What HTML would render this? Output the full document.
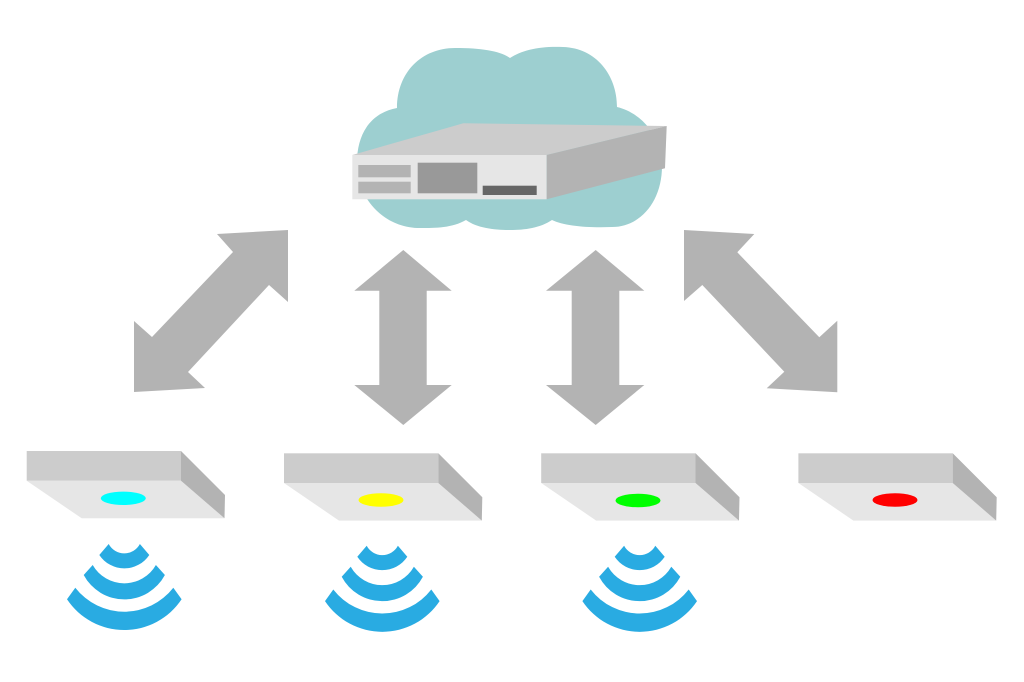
<!DOCTYPE html>
<html>
<head>
<meta charset="utf-8">
<style>
  html,body{margin:0;padding:0;background:#ffffff;}
  body{width:1024px;height:682px;overflow:hidden;}
  svg{display:block;}
</style>
</head>
<body>
<svg width="1024" height="682" viewBox="0 0 1024 682" xmlns="http://www.w3.org/2000/svg">
  <rect x="0" y="0" width="1024" height="682" fill="#ffffff"/>

  <!-- Cloud -->
  <path fill="#9dcfd0" d="
    M 397,108
    C 397,72 422,48 455,48
    C 482,48 500,51 510,58
    C 522,50 540,46 563,47
    C 596,48 617,75 617,107
    C 642,113 662,137 662,166
    C 662,202 640,227 612,227
    C 588,228 564,226 552,220
    C 540,228 525,230 510,230
    C 494,230 477,228 466,220
    C 452,228 436,228 420,228
    C 385,228 358,200 357,166
    C 356,135 370,113 397,108 Z"/>

  <!-- Server -->
  <polygon fill="#cccccc" points="352.3,155 463.3,123.3 666.7,126 546.7,155"/>
  <rect x="352.3" y="155" width="194.4" height="44.3" fill="#e6e6e6"/>
  <polygon fill="#b3b3b3" points="546.7,155 666.7,126 665,168.3 546.7,199.3"/>
  <rect x="358.3" y="165" width="52.4" height="12.3" fill="#b3b3b3"/>
  <rect x="358.3" y="181.7" width="52.4" height="11.6" fill="#b3b3b3"/>
  <rect x="417.7" y="162.7" width="59.6" height="30.6" fill="#999999"/>
  <rect x="482.7" y="185.7" width="54" height="9.3" fill="#666666"/>

  <!-- Arrows -->
  <g fill="#b3b3b3">
    <polygon points="288,230 288,302 269,285 188,372 205,388 134,392 134,321 152,337 233,252 217,234"/>
    <polygon points="403.3,250 451.7,290.7 426.7,290.7 426.7,385 451.7,385 403.3,425 354.3,385 379.3,385 379.3,290.7 354.3,290.7"/>
    <polygon points="595.7,250 644.3,290.7 619.3,290.7 619.3,385 644.3,385 595.7,425 546,385 571.7,385 571.7,290.7 546,290.7"/>
    <polygon points="684,230 754.3,234 737.3,252.3 819.3,337.3 837.3,320.7 837.3,392.3 766.7,388.3 784.3,371.7 702.3,285 684,301"/>
  </g>

  <!-- Access point template -->
  <defs>
    <g id="ap">
      <polygon fill="#e6e6e6" points="26.7,480.7 181,480.7 224.5,518.3 81.7,518.3"/>
      <rect x="26.7" y="451" width="154.3" height="29.7" fill="#cccccc"/>
      <polygon fill="#b3b3b3" points="181,451 225,495 224.5,518.3 181,480.7"/>
    </g>
    <g id="wifi" fill="#29abe2">
      <path d="M 67,599.3 A 68.8 68.8 0 0 0 181.6,599.3 L 173.3,587.7 A 62 62 0 0 1 75.3,587.7 Z"/>
      <path d="M 83.7,575 A 46 46 0 0 0 164.9,575 L 155.9,565 A 36.4 36.4 0 0 1 92.7,565 Z"/>
      <path d="M 99.3,555 A 30.1 30.1 0 0 0 149.3,555 L 139.9,544 A 17.7 17.7 0 0 1 108.7,544 Z"/>
    </g>
  </defs>

  <!-- AP 1 -->
  <use href="#ap" x="0" y="0"/>
  <ellipse cx="123.3" cy="498.3" rx="22.5" ry="6.7" fill="#00ffff"/>
  <use href="#wifi" x="0" y="0"/>

  <!-- AP 2 -->
  <use href="#ap" x="257.3" y="2.3"/>
  <ellipse cx="381" cy="500" rx="22.5" ry="6.7" fill="#ffff00"/>
  <use href="#wifi" x="258" y="1.8"/>

  <!-- AP 3 -->
  <use href="#ap" x="514.5" y="2.3"/>
  <ellipse cx="638" cy="500.5" rx="22.5" ry="6.7" fill="#00ff00"/>
  <use href="#wifi" x="515.4" y="1.8"/>

  <!-- AP 4 -->
  <use href="#ap" x="771.7" y="2.3"/>
  <ellipse cx="895" cy="500" rx="22.5" ry="6.7" fill="#ff0000"/>
</svg>
</body>
</html>
